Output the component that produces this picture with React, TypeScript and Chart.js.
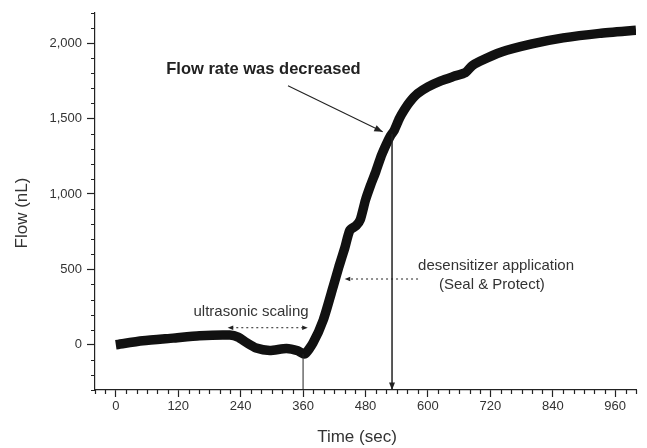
import React, { useEffect, useRef } from 'react';
import { Chart, registerables } from 'chart.js';
Chart.register(...registerables);

const timeSec = [0, 52, 110, 161, 219, 235, 251, 270, 296, 328, 350, 363, 379, 399, 418, 429, 440, 450, 462, 470, 480, 490, 500, 510, 520, 528, 535, 545, 555, 565, 580, 600, 625, 650, 672, 685, 700, 740, 800, 860, 930, 1000];
const flowNL = [0, 26, 44, 60, 64, 51, 15, -22, -38, -25, -40, -62, 11, 166, 387, 519, 640, 760, 790, 830, 960, 1060, 1150, 1250, 1330, 1385, 1420, 1500, 1560, 1610, 1665, 1710, 1750, 1780, 1805, 1850, 1880, 1940, 1995, 2035, 2065, 2085];

const xMajorTicks = [0, 120, 240, 360, 480, 600, 720, 840, 960];
const yMajorTicks = [0, 500, 1000, 1500, 2000];
const xMinorStep = 20;
const yMinorStep = 100;
const xRange = [-40, 1000];
const yRange = [-300, 2200];
const xTitle = 'Time (sec)';
const yTitle = 'Flow (nL)';

const FONT = '"Liberation Sans", Arial, sans-serif';
const INK = '#222';

function arrowHead(ctx: CanvasRenderingContext2D, x1: number, y1: number, x2: number, y2: number, size: number) {
  const a = Math.atan2(y2 - y1, x2 - x1);
  ctx.beginPath();
  ctx.moveTo(x2, y2);
  ctx.lineTo(x2 - size * Math.cos(a - 0.38), y2 - size * Math.sin(a - 0.38));
  ctx.lineTo(x2 - size * Math.cos(a + 0.38), y2 - size * Math.sin(a + 0.38));
  ctx.closePath();
  ctx.fill();
}

const decorPlugin = {
  id: 'decor',
  afterDraw(chart: any) {
    const { ctx, scales } = chart;
    const xs = scales.x, ys = scales.y;
    const X = (v: number) => xs.getPixelForValue(v);
    const Y = (v: number) => ys.getPixelForValue(v);
    ctx.save();
    ctx.strokeStyle = INK;
    ctx.fillStyle = INK;
    ctx.lineWidth = 1.2;
    // minor ticks
    ctx.beginPath();
    for (let v = xRange[0]; v <= xRange[1]; v += xMinorStep) {
      if (xMajorTicks.includes(v)) continue;
      const px = Math.round(X(v)) + 0.5;
      ctx.moveTo(px, ys.bottom);
      ctx.lineTo(px, ys.bottom + 4);
    }
    for (let v = yRange[0]; v <= yRange[1]; v += yMinorStep) {
      if (yMajorTicks.includes(v)) continue;
      const py = Math.round(Y(v)) + 0.5;
      ctx.moveTo(xs.left, py);
      ctx.lineTo(xs.left - 4, py);
    }
    ctx.stroke();

    // vertical thin line at 360 s
    ctx.lineWidth = 1;
    ctx.beginPath();
    ctx.moveTo(X(360), Y(-62));
    ctx.lineTo(X(360), Y(-300));
    ctx.stroke();

    // vertical arrow at flow-rate change
    ctx.lineWidth = 1.5;
    ctx.beginPath();
    ctx.moveTo(X(531), Y(1400));
    ctx.lineTo(X(531), Y(-300));
    ctx.stroke();
    arrowHead(ctx, X(531), Y(0), X(531), Y(-300), 8);

    // diagonal arrow
    ctx.lineWidth = 1.1;
    ctx.beginPath();
    ctx.moveTo(X(331), Y(1717));
    ctx.lineTo(X(513), Y(1412));
    ctx.stroke();
    arrowHead(ctx, X(331), Y(1717), X(513), Y(1412), 9);

    // dotted double arrow (ultrasonic scaling)
    ctx.lineWidth = 1;
    ctx.setLineDash([2, 3]);
    ctx.beginPath();
    ctx.moveTo(X(222), Y(113));
    ctx.lineTo(X(362), Y(113));
    ctx.stroke();
    // dotted arrow (desensitizer)
    ctx.beginPath();
    ctx.moveTo(X(581), Y(436));
    ctx.lineTo(X(448), Y(436));
    ctx.stroke();
    ctx.setLineDash([]);
    arrowHead(ctx, X(300), Y(113), X(215), Y(113), 6);
    arrowHead(ctx, X(300), Y(113), X(369), Y(113), 6);
    arrowHead(ctx, X(581), Y(436), X(440), Y(436), 6);

    // texts
    ctx.textBaseline = 'middle';
    ctx.textAlign = 'left';
    ctx.font = `bold 16.5px ${FONT}`;
    ctx.fillText('Flow rate was decreased', X(97), Y(1824));
    ctx.font = `15px ${FONT}`;
    ctx.textAlign = 'center';
    ctx.fillStyle = '#333';
    ctx.fillText('ultrasonic scaling', X(260), Y(219));
    ctx.fillText('desensitizer application', X(731), Y(524));
    ctx.fillText('(Seal & Protect)', X(723), Y(398));

    // axis titles
    ctx.font = `17px ${FONT}`;
    ctx.fillText(xTitle, 357, 437);
    ctx.translate(22, 213);
    ctx.rotate(-Math.PI / 2);
    ctx.fillText(yTitle, 0, 0);
    ctx.restore();
  },
};

export default function App() {
  const ref = useRef<HTMLCanvasElement>(null);
  useEffect(() => {
    const chart = new Chart(ref.current!, {
      type: 'line',
      data: {
        datasets: [
          {
            data: timeSec.map((t, i) => ({ x: t, y: flowNL[i] })),
            borderColor: '#111',
            borderWidth: 9.5,
            pointRadius: 0,
            tension: 0.2,
            borderJoinStyle: 'round',
            borderCapStyle: 'butt',
          },
        ],
      },
      options: {
        animation: false,
        responsive: false,
        layout: { padding: { top: 13, right: 11, left: 0, bottom: 0 } },
        plugins: { legend: { display: false }, tooltip: { enabled: false } },
        scales: {
          x: {
            type: 'linear',
            min: xRange[0],
            max: xRange[1],
            afterBuildTicks: (s: any) => { s.ticks = xMajorTicks.map((v) => ({ value: v })); },
            afterFit: (s: any) => { s.height = 58; },
            grid: { display: true, drawOnChartArea: false, drawTicks: true, tickLength: 7, tickColor: INK, tickWidth: 1.2 },
            border: { display: true, color: INK, width: 1.2 },
            ticks: { color: '#333', font: { family: FONT, size: 13 }, padding: 2, maxRotation: 0, autoSkip: false },
            title: { display: false },
          },
          y: {
            type: 'linear',
            min: yRange[0],
            max: yRange[1],
            afterBuildTicks: (s: any) => { s.ticks = yMajorTicks.map((v) => ({ value: v })); },
            afterFit: (s: any) => { s.width = 95; },
            grid: { display: true, drawOnChartArea: false, drawTicks: true, tickLength: 8, tickColor: INK, tickWidth: 1.2 },
            border: { display: true, color: INK, width: 1.2 },
            ticks: { color: '#333', font: { family: FONT, size: 13 }, padding: 5, callback: (v: any) => Number(v).toLocaleString('en-US') },
            title: { display: false },
          },
        },
      },
      plugins: [decorPlugin],
    } as any);
    return () => chart.destroy();
  }, []);
  return (
    <div style={{ position: 'fixed', left: 0, top: 0, width: 647, height: 448, background: '#fff' }}>
      <canvas ref={ref} width={647} height={448} style={{ display: 'block' }} />
    </div>
  );
}
